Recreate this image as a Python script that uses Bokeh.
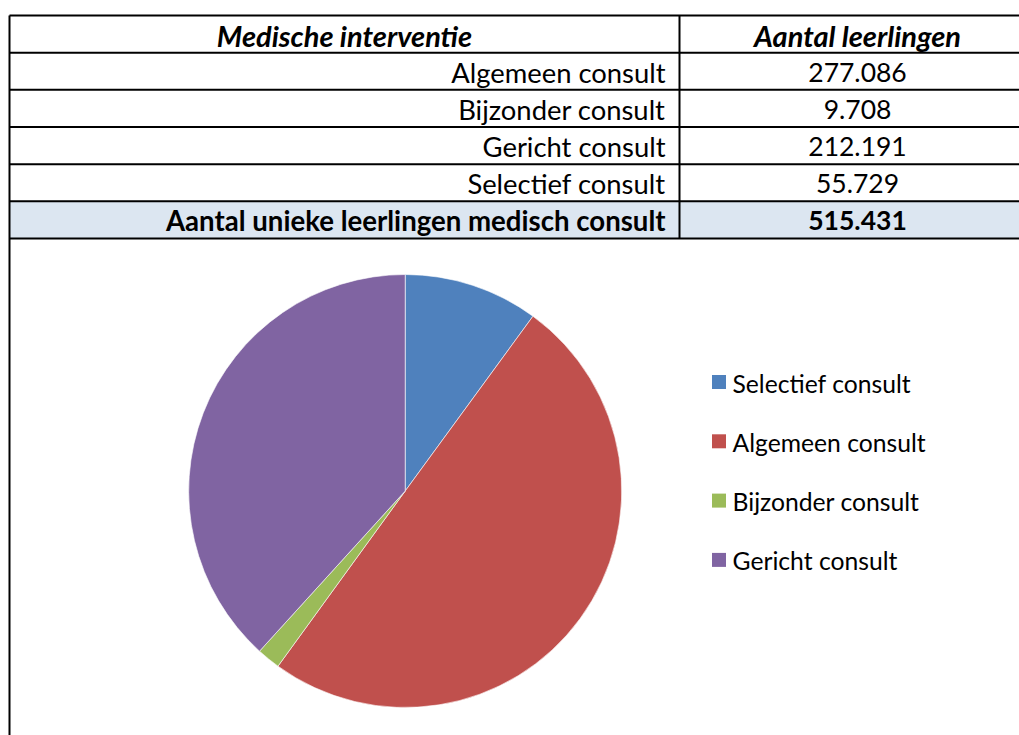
import numpy as np
from bokeh.plotting import figure
from bokeh.models import Range1d, ColumnDataSource
from bokeh.core.properties import value
from bokeh.embed import file_html
from bokeh.resources import INLINE

# ---------------- data ----------------
header_left = "Medische interventie"
header_right = "Aantal leerlingen"
table_labels = ["Algemeen consult", "Bijzonder consult", "Gericht consult", "Selectief consult"]
table_values = [277086, 9708, 212191, 55729]
total_label = "Aantal unieke leerlingen medisch consult"
total_value = 515431

pie_labels = ["Selectief consult", "Algemeen consult", "Bijzonder consult", "Gericht consult"]
pie_colors = ["#4F81BD", "#C0504D", "#9BBB59", "#8064A2"]

def fmt(v):
    return f"{v:,}".replace(",", ".")

FONT = value("Lato")

# ---------------- figure (data coords == page pixels) ----------------
W, H = 1019, 735
p = figure(width=W, height=H, x_range=Range1d(0, W), y_range=Range1d(H, 0),
           output_backend="svg", toolbar_location=None, min_border=0)
p.axis.visible = False
p.grid.visible = False
p.outline_line_color = None
p.background_fill_color = "white"
p.border_fill_color = "white"

# table layout
x_left, x_mid, x_right = 9, 679, 1040
row_top = 15
row_h = 37.17
n_rows = 2 + len(table_labels)
row_edges = [row_top + i * row_h for i in range(n_rows + 1)]
row_centers = [(row_edges[i] + row_edges[i + 1]) / 2 + 1 for i in range(n_rows)]

# total row fill
p.quad(left=x_left, right=x_right, top=row_edges[-2], bottom=row_edges[-1],
       fill_color="#DCE6F1", line_color=None)

# grid lines
p.segment(x0=[x_left] * len(row_edges), x1=[x_right] * len(row_edges),
          y0=row_edges, y1=row_edges, line_color="black", line_width=2)
p.segment(x0=[x_left, x_mid], x1=[x_left, x_mid], y0=[row_top, row_top],
          y1=[760, row_edges[-1]], line_color="black", line_width=2)

# header
p.text(x=[344, 857], y=[row_centers[0]] * 2, text=[header_left, header_right],
       text_font=FONT, text_font_style="bold italic", text_font_size="29px",
       text_align="center", text_baseline="middle", text_color="black")

# body rows
body_y = row_centers[1:-1]
p.text(x=[665] * len(table_labels), y=body_y, text=table_labels,
       text_font=FONT, text_font_size="27.4px", text_align="right",
       text_baseline="middle", text_color="black")
p.text(x=[857] * len(table_values), y=body_y, text=[fmt(v) for v in table_values],
       text_font=FONT, text_font_size="26.5px", text_align="center",
       text_baseline="middle", text_color="black")

# total row
p.text(x=[665], y=[row_centers[-1]], text=[total_label], text_font=FONT,
       text_font_style="bold", text_font_size="27.6px", text_align="right",
       text_baseline="middle", text_color="black")
p.text(x=[857], y=[row_centers[-1]], text=[fmt(total_value)], text_font=FONT,
       text_font_style="bold", text_font_size="26.5px", text_align="center",
       text_baseline="middle", text_color="black")

# ---------------- pie ----------------
lookup = dict(zip(table_labels, table_values))
pie_values = np.array([lookup[l] for l in pie_labels], dtype=float)
frac = pie_values / pie_values.sum()
cum = np.concatenate([[0], np.cumsum(frac)])
start = np.pi / 2 - 2 * np.pi * cum[:-1]
end = np.pi / 2 - 2 * np.pi * cum[1:]
src = ColumnDataSource(dict(start=start, end=end, color=pie_colors, label=pie_labels))
p.wedge(x=404.7, y=490.5, radius=216.5, start_angle="start", end_angle="end",
        direction="clock", fill_color="color", line_color="white", line_width=0.6,
        source=src)

# legend
leg_y = [381.5 + i * 59.3 for i in range(len(pie_labels))]
p.rect(x=[718.5] * len(pie_labels), y=leg_y, width=14, height=14,
       fill_color=pie_colors, line_color=None)
p.text(x=[732] * len(pie_labels), y=[v + 1 for v in leg_y], text=pie_labels,
       text_font=FONT, text_font_size="24.7px", text_align="left",
       text_baseline="middle", text_color="black")

open("out.html", "w").write(file_html(p, INLINE))
